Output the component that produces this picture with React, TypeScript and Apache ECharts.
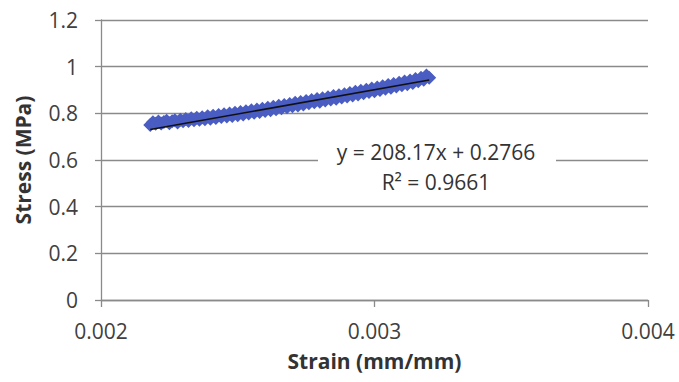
import React, { useEffect, useRef } from "react";
import * as echarts from "echarts";

const strain: number[] = [
  0.00218, 0.00219, 0.0022, 0.00221, 0.00222, 0.00223, 0.00224, 0.00225, 0.00226, 0.00227,
  0.00228, 0.00229, 0.0023, 0.00231, 0.00232, 0.00233, 0.00234, 0.00235, 0.00236, 0.00237,
  0.00238, 0.00239, 0.0024, 0.00241, 0.00242, 0.00243, 0.00244, 0.00245, 0.00246, 0.00247,
  0.00248, 0.00249, 0.0025, 0.00251, 0.00252, 0.00253, 0.00254, 0.00255, 0.00256, 0.00257,
  0.00258, 0.00259, 0.0026, 0.00261, 0.00262, 0.00263, 0.00264, 0.00265, 0.00266, 0.00267,
  0.00268, 0.00269, 0.0027, 0.00271, 0.00272, 0.00273, 0.00274, 0.00275, 0.00276, 0.00277,
  0.00278, 0.00279, 0.0028, 0.00281, 0.00282, 0.00283, 0.00284, 0.00285, 0.00286, 0.00287,
  0.00288, 0.00289, 0.0029, 0.00291, 0.00292, 0.00293, 0.00294, 0.00295, 0.00296, 0.00297,
  0.00298, 0.00299, 0.003, 0.00301, 0.00302, 0.00303, 0.00304, 0.00305, 0.00306, 0.00307,
  0.00308, 0.00309, 0.0031, 0.00311, 0.00312, 0.00313, 0.00314, 0.00315, 0.00316, 0.00317,
  0.00318, 0.00319, 0.0032,
];

const stress: number[] = [
  0.750, 0.762, 0.755, 0.765, 0.756, 0.763, 0.768, 0.757, 0.766, 0.770,
  0.761, 0.772, 0.766, 0.776, 0.767, 0.779, 0.770, 0.781, 0.772, 0.783,
  0.775, 0.787, 0.777, 0.790, 0.780, 0.793, 0.784, 0.796, 0.786, 0.799,
  0.789, 0.802, 0.792, 0.806, 0.795, 0.809, 0.799, 0.813, 0.803, 0.816,
  0.806, 0.820, 0.810, 0.824, 0.813, 0.828, 0.817, 0.832, 0.822, 0.836,
  0.826, 0.840, 0.830, 0.845, 0.834, 0.849, 0.838, 0.853, 0.843, 0.857,
  0.847, 0.861, 0.850, 0.865, 0.855, 0.869, 0.859, 0.874, 0.863, 0.878,
  0.868, 0.882, 0.872, 0.887, 0.876, 0.892, 0.881, 0.897, 0.886, 0.901,
  0.891, 0.906, 0.895, 0.911, 0.900, 0.916, 0.905, 0.921, 0.910, 0.926,
  0.915, 0.931, 0.920, 0.936, 0.925, 0.941, 0.930, 0.947, 0.938, 0.953,
  0.944, 0.962, 0.952,
];

const trendSlope = 208.17;
const trendIntercept = 0.2766;
const equationLines: string[] = ["y = 208.17x + 0.2766", "R² = 0.9661"];

const yTicks: string[] = ["0", "0.2", "0.4", "0.6", "0.8", "1", "1.2"];
const xTicks: string[] = ["0.002", "0.003", "0.004"];

const FONT = "'Open Sans', 'Noto Sans', sans-serif";

export default function App() {
  const ref = useRef<HTMLDivElement>(null);

  useEffect(() => {
    document.body.style.margin = "0";
    if (!ref.current) return;
    const chart = echarts.init(ref.current, undefined, { renderer: "svg" });

    const xMin = Math.min(...strain);
    const xMax = Math.max(...strain);
    const trend = [xMin, xMax].map((x) => [x, trendSlope * x + trendIntercept]);

    chart.setOption({
      animation: false,
      backgroundColor: "#ffffff",
      grid: { left: 101, top: 20, right: 31, bottom: 82, containLabel: false },
      xAxis: {
        type: "value",
        min: 0.002,
        max: 0.004,
        interval: 0.001,
        name: "Strain (mm/mm)",
        nameLocation: "middle",
        nameGap: 50,
        nameTextStyle: { fontFamily: FONT, fontSize: 21, fontWeight: "bold", color: "#333333" },
        axisLine: { show: true, lineStyle: { color: "#8a8a8a", width: 1.3 } },
        axisTick: { show: true, inside: false, length: 7, lineStyle: { color: "#8a8a8a", width: 1.3 } },
        axisLabel: {
          margin: 20,
          fontFamily: FONT,
          fontSize: 21,
          color: "#404040",
          formatter: (v: number) => xTicks[Math.round((v - 0.002) / 0.001)] ?? "",
        },
        splitLine: { show: false },
      },
      yAxis: {
        type: "value",
        min: 0,
        max: 1.2,
        interval: 0.2,
        name: "Stress (MPa)",
        nameLocation: "middle",
        nameGap: 68,
        nameRotate: 90,
        nameTextStyle: { fontFamily: FONT, fontSize: 21, fontWeight: "bold", color: "#333333" },
        axisLine: { show: true, lineStyle: { color: "#8a8a8a", width: 1.3 } },
        axisTick: { show: true, inside: false, length: 6, lineStyle: { color: "#8a8a8a", width: 1.3 } },
        axisLabel: {
          margin: 23,
          fontFamily: FONT,
          fontSize: 21,
          color: "#404040",
          formatter: (v: number) => yTicks[Math.round(v / 0.2)] ?? "",
        },
        splitLine: { show: true, lineStyle: { color: "#8a8a8a", width: 1.3 } },
      },
      graphic: [
        {
          type: "rect",
          x: 318,
          y: 136,
          shape: { width: 238, height: 58 },
          style: { fill: "#ffffff" },
          z: 50,
        },
        {
          type: "text",
          x: 436,
          y: 137,
          style: {
            text: equationLines.join("\n"),
            fontFamily: FONT,
            fontSize: 21,
            fill: "#333333",
            align: "center",
            verticalAlign: "top",
            lineHeight: 30,
          },
          z: 51,
        },
      ],
      series: [
        {
          type: "scatter",
          data: strain.map((x, i) => [x, stress[i]]),
          symbol: "diamond",
          symbolSize: [14, 14],
          itemStyle: { color: "#4a5dc2", opacity: 1 },
          z: 2,
        },
        {
          type: "line",
          data: trend,
          showSymbol: false,
          symbol: "none",
          lineStyle: { color: "#111111", width: 1.6 },
          z: 3,
        },
      ],
    });

    return () => chart.dispose();
  }, []);

  return <div ref={ref} style={{ width: 679, height: 382 }} />;
}
